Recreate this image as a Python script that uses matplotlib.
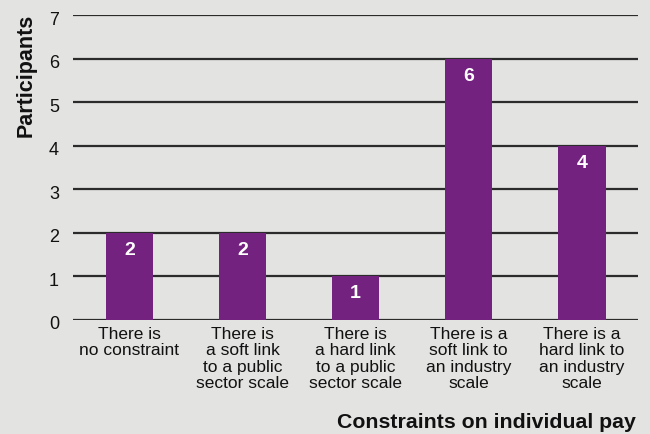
import matplotlib.pyplot as plt
from matplotlib.transforms import ScaledTranslation

plt.rcParams['font.family'] = ['Liberation Sans', 'DejaVu Sans']

categories = [
    'There is\nno constraint',
    'There is\na soft link\nto a public\nsector scale',
    'There is\na hard link\nto a public\nsector scale',
    'There is a\nsoft link to\nan industry\nscale',
    'There is a\nhard link to\nan industry\nscale',
]
participants = [2, 2, 1, 6, 4]
y_ticks = [0, 1, 2, 3, 4, 5, 6, 7]

bg = '#e3e3e2'
purple = '#74227f'

fig = plt.figure(figsize=(6.5, 4.34), dpi=100, facecolor=bg)
ax = fig.add_axes([0.112, 0.263, 0.87, 0.702], facecolor=bg)

x = list(range(len(categories)))
ax.set_axisbelow(True)
ax.yaxis.grid(True, color='#2b2b2b', linewidth=1.6)
bars = ax.bar(x, participants, width=0.42, color=purple, zorder=3)

for xi, v in zip(x, participants):
    ax.annotate(str(v), (xi, v), xytext=(0, -12.5), textcoords='offset points',
                ha='center', va='center', color='white', fontsize=14,
                fontweight='bold', zorder=4)

ax.set_xlim(-0.5, len(categories) - 0.5)
ax.set_ylim(0, 7)
ax.set_yticks(y_ticks)
ax.set_xticks(x)
ax.set_xticklabels(categories, fontsize=12.5, linespacing=1.12, color='#111111')
ax.tick_params(axis='y', labelsize=13, length=0, pad=10, labelcolor='#111111')
ax.tick_params(axis='x', length=0, pad=5)
for s in ax.spines.values():
    s.set_visible(False)

# nudge the y tick numbers slightly below their gridlines
shift = ScaledTranslation(0, -3 / 100, fig.dpi_scale_trans)
for lbl in ax.get_yticklabels():
    lbl.set_transform(lbl.get_transform() + shift)

fig.text(0.04, 0.968, 'Participants', rotation=90, ha='center', va='top',
         fontsize=15.5, fontweight='bold', color='#111111')
fig.text(0.979, 0.027, 'Constraints on individual pay', ha='right', va='center',
         fontsize=15.3, fontweight='bold', color='#111111')

fig.savefig('out.png', dpi=100, facecolor=bg)
